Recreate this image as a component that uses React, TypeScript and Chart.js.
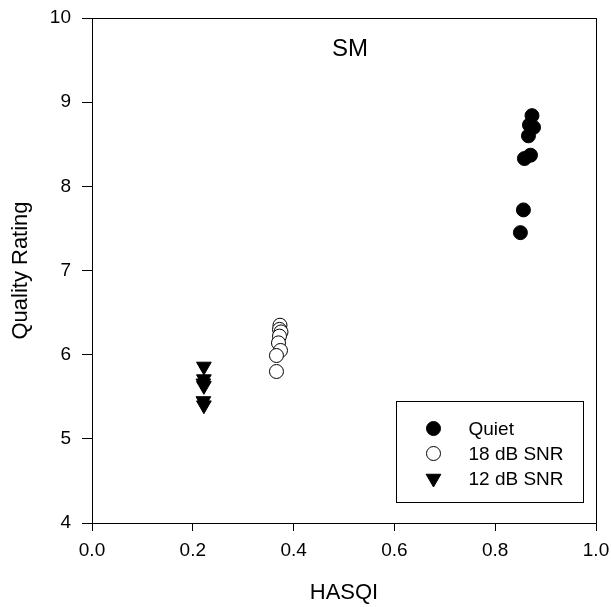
import React, { useEffect, useRef } from 'react';
import { Chart, registerables } from 'chart.js';

Chart.register(...registerables);

// ---- data ----
const seriesNames = ['Quiet', '18 dB SNR', '12 dB SNR'];
const quietX = [0.873, 0.876, 0.868, 0.866, 0.858, 0.870, 0.856, 0.850];
const quietY = [8.84, 8.70, 8.73, 8.60, 8.33, 8.37, 7.72, 7.45];
const snr18X = [0.373, 0.372, 0.375, 0.372, 0.370, 0.374, 0.366, 0.366];
const snr18Y = [6.35, 6.30, 6.27, 6.22, 6.14, 6.05, 5.99, 5.80];
const snr12X = [0.222, 0.222, 0.221, 0.222, 0.221, 0.222];
const snr12Y = [5.86, 5.71, 5.66, 5.63, 5.45, 5.40];
const xTickValues = [0, 0.2, 0.4, 0.6, 0.8, 1.0];
const yTickValues = [4, 5, 6, 7, 8, 9, 10];
const panelTitle = 'SM';
const xTitle = 'HASQI';
const yTitle = 'Quality Rating';

const FONT = "'Liberation Sans', Arial, Helvetica, sans-serif";

function pts(xs: number[], ys: number[]) {
  return xs.map((x, i) => ({ x, y: ys[i] }));
}

export default function App() {
  const ref = useRef<HTMLCanvasElement>(null);

  useEffect(() => {
    if (!ref.current) return;

    const align = (p: number) => Math.round(p - 0.5) + 0.5;

    const boxPlugin = {
      id: 'boxPlugin',
      afterDraw(chart: any) {
        const { ctx, chartArea: a } = chart;
        ctx.save();
        ctx.strokeStyle = '#000';
        ctx.lineWidth = 1;
        const l = align(a.left);
        const t = align(a.top);
        const r = align(a.right);
        const b = align(a.bottom);
        ctx.strokeRect(l, t, r - l, b - t);

        // panel title
        ctx.fillStyle = '#000';
        ctx.font = `24px ${FONT}`;
        ctx.textAlign = 'center';
        ctx.textBaseline = 'middle';
        ctx.fillText(panelTitle, (a.left + a.right) / 2 + 6, a.top + 31);

        // legend
        const bw = 187, bh = 101;
        const bx = Math.round(a.right - 13 - bw) + 0.5;
        const by = Math.round(a.bottom - 21 - bh) + 0.5;
        ctx.strokeRect(bx, by, bw, bh);
        ctx.font = `19px ${FONT}`;
        ctx.textAlign = 'left';
        ctx.textBaseline = 'middle';
        const ds = chart.data.datasets;
        for (let i = 0; i < ds.length; i++) {
          const cy = by + 27 + i * 25;
          const cx = bx + 37;
          ctx.beginPath();
          ctx.lineWidth = 1;
          ctx.strokeStyle = '#000';
          ctx.fillStyle = ds[i].backgroundColor;
          if (ds[i].pointStyle === 'triangle') {
            const r = 8.5;
            let rad = Math.PI;
            ctx.moveTo(cx + Math.sin(rad) * r, cy - Math.cos(rad) * r);
            rad += (2 * Math.PI) / 3;
            ctx.lineTo(cx + Math.sin(rad) * r, cy - Math.cos(rad) * r);
            rad += (2 * Math.PI) / 3;
            ctx.lineTo(cx + Math.sin(rad) * r, cy - Math.cos(rad) * r);
            ctx.closePath();
          } else {
            ctx.arc(cx, cy, 7, 0, Math.PI * 2);
          }
          ctx.fill();
          ctx.stroke();
          ctx.fillStyle = '#000';
          ctx.fillText(ds[i].label, bx + 72, cy + 1);
        }
        ctx.restore();
      },
    };

    const chart = new Chart(ref.current, {
      type: 'scatter',
      data: {
        datasets: [
          {
            label: seriesNames[0],
            data: pts(quietX, quietY),
            pointStyle: 'circle',
            pointRadius: 7,
            backgroundColor: '#000',
            borderColor: '#000',
            borderWidth: 1,
          },
          {
            label: seriesNames[1],
            data: pts(snr18X, snr18Y),
            pointStyle: 'circle',
            pointRadius: 7,
            backgroundColor: '#fff',
            borderColor: '#000',
            borderWidth: 1,
          },
          {
            label: seriesNames[2],
            data: pts(snr12X, snr12Y),
            pointStyle: 'triangle',
            pointRotation: 180,
            pointRadius: 8.5,
            backgroundColor: '#000',
            borderColor: '#000',
            borderWidth: 1,
          },
        ],
      } as any,
      options: {
        animation: false,
        responsive: false,
        devicePixelRatio: 1,
        layout: { padding: { top: 18, right: 15, left: 0, bottom: 0 } },
        plugins: {
          legend: { display: false },
          tooltip: { enabled: false },
          title: { display: false },
        },
        scales: {
          x: {
            type: 'linear',
            min: 0,
            max: 1,
            afterBuildTicks: (s: any) => {
              s.ticks = xTickValues.map((v) => ({ value: v }));
            },
            afterFit: (s: any) => {
              s.height = 84;
              s.paddingLeft = 0;
              s.paddingRight = 0;
            },
            ticks: {
              color: '#000',
              font: { family: FONT, size: 19 },
              padding: 8,
              maxRotation: 0,
              callback: (v: any) => Number(v).toFixed(1),
            },
            grid: {
              drawOnChartArea: false,
              drawTicks: true,
              tickLength: 8,
              color: '#000',
            },
            border: { display: true, color: '#000', width: 1 },
            title: {
              display: true,
              text: xTitle,
              color: '#000',
              font: { family: FONT, size: 22 },
              padding: { top: 0, bottom: 1 },
            },
          },
          y: {
            type: 'linear',
            min: 4,
            max: 10,
            afterBuildTicks: (s: any) => {
              s.ticks = yTickValues.map((v) => ({ value: v }));
            },
            afterFit: (s: any) => {
              s.width = 92;
              s.paddingTop = 0;
              s.paddingBottom = 0;
            },
            ticks: {
              color: '#000',
              font: { family: FONT, size: 19 },
              padding: 11,
              callback: (v: any) => String(v),
            },
            grid: {
              drawOnChartArea: false,
              drawTicks: true,
              tickLength: 10,
              color: '#000',
            },
            border: { display: true, color: '#000', width: 1 },
            title: {
              display: true,
              text: yTitle,
              color: '#000',
              font: { family: FONT, size: 22 },
              padding: { top: 8, bottom: 0 },
            },
          },
        },
      } as any,
      plugins: [boxPlugin],
    });

    return () => chart.destroy();
  }, []);

  return (
    <div style={{ position: 'fixed', left: 0, top: 0, width: 611, height: 607, background: '#fff' }}>
      <canvas ref={ref} width={611} height={607} style={{ display: 'block', width: 611, height: 607 }} />
    </div>
  );
}
